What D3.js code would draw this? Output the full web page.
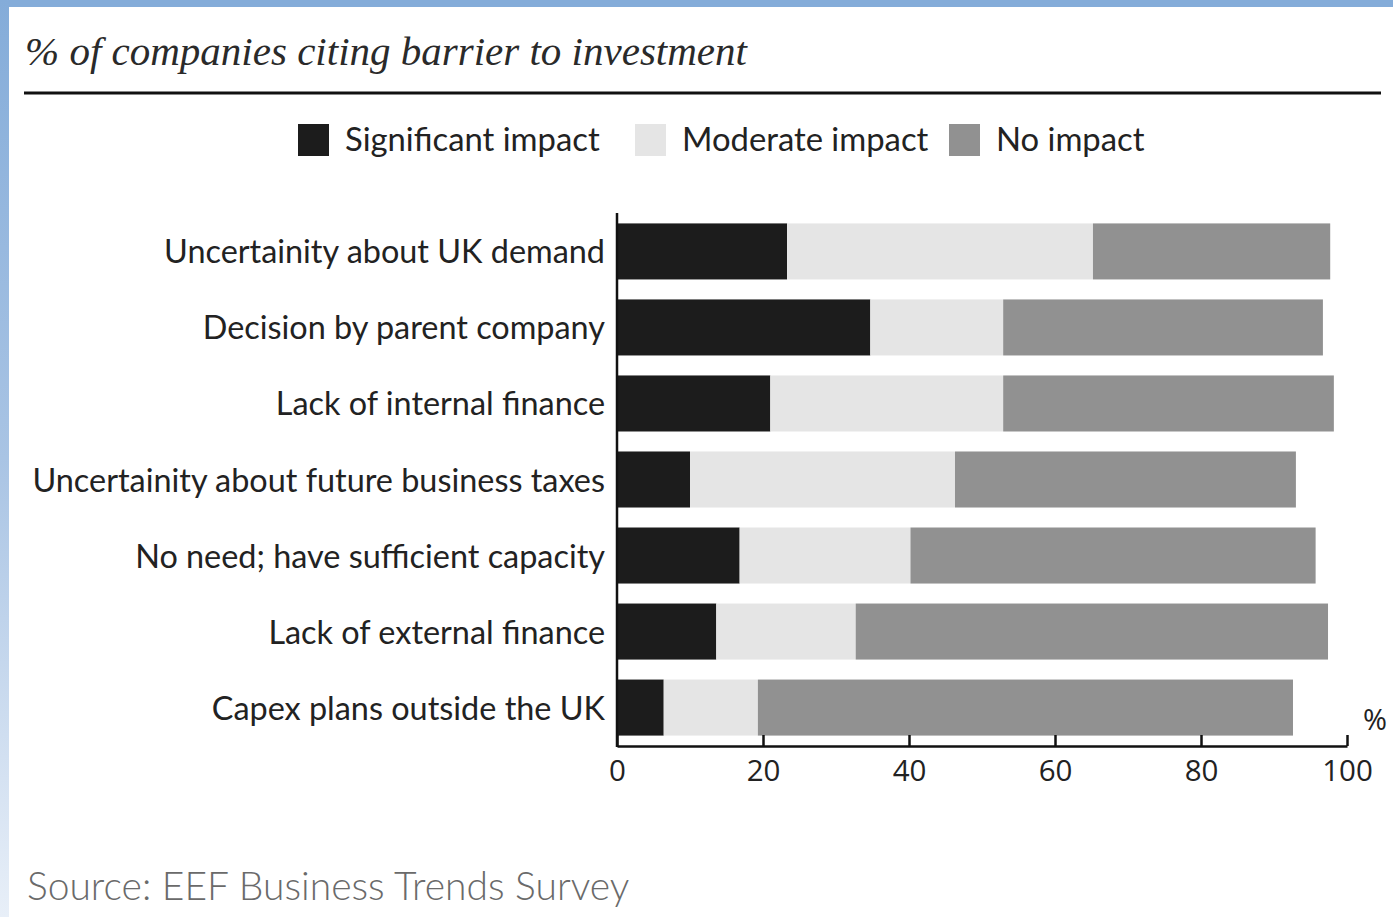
<!DOCTYPE html>
<html>
<head>
<meta charset="utf-8">
<script src="https://cdn.jsdelivr.net/npm/d3@7"></script>
<style>
  html, body { margin: 0; padding: 0; background: #fff; }
  svg { display: block; }
</style>
</head>
<body>
<svg id="chart" width="1393" height="917"></svg>
<script>
// Survey categories, top to bottom
const categories = [
  "Uncertainity about UK demand",
  "Decision by parent company",
  "Lack of internal finance",
  "Uncertainity about future business taxes",
  "No need; have sufficient capacity",
  "Lack of external finance",
  "Capex plans outside the UK"
];
// % of companies per impact level
const significant = [23.3, 34.7, 21.0, 10.0, 16.8, 13.6, 6.4];
const moderate    = [41.9, 18.2, 31.9, 36.3, 23.4, 19.1, 12.9];
const noImpact    = [32.5, 43.8, 45.3, 46.7, 55.5, 64.7, 73.3];
const seriesNames = ["Significant impact", "Moderate impact", "No impact"];
const xTicks = [0, 20, 40, 60, 80, 100];

const colors = ["#1c1c1c", "#e5e5e5", "#919191"];

const svg = d3.select("#chart");

// frame: blue band along top and a fading band down the left edge
const defs = svg.append("defs");
const grad = defs.append("linearGradient").attr("id", "leftBand")
  .attr("x1", 0).attr("y1", 0).attr("x2", 0).attr("y2", 1);
grad.append("stop").attr("offset", "0%").attr("stop-color", "#84acd9");
grad.append("stop").attr("offset", "50%").attr("stop-color", "#a9c4e4");
grad.append("stop").attr("offset", "100%").attr("stop-color", "#e8eff8");
svg.append("rect").attr("x", 0).attr("y", 0).attr("width", 1393).attr("height", 7).attr("fill", "#84acd9");
svg.append("rect").attr("x", 0).attr("y", 0).attr("width", 9).attr("height", 917).attr("fill", "url(#leftBand)");

// title and rule
svg.append("text")
  .attr("x", 25).attr("y", 65)
  .attr("font-family", "'Liberation Serif', 'DejaVu Serif', serif")
  .attr("font-style", "italic")
  .attr("font-size", 41)
  .attr("fill", "#2a2a2a")
  .text("% of companies citing barrier to investment");
svg.append("line")
  .attr("x1", 24).attr("x2", 1381).attr("y1", 93).attr("y2", 93)
  .attr("stroke", "#111").attr("stroke-width", 3);

// legend
const legendItems = [
  { name: seriesNames[0], color: colors[0], x: 298 },
  { name: seriesNames[1], color: colors[1], x: 635 },
  { name: seriesNames[2], color: colors[2], x: 949 }
];
const legend = svg.append("g");
legendItems.forEach(d => {
  legend.append("rect").attr("x", d.x).attr("y", 124).attr("width", 31).attr("height", 32).attr("fill", d.color);
  legend.append("text")
    .attr("x", d.x + 47).attr("y", 151)
    .attr("font-family", "Lato, 'Open Sans', sans-serif")
    .attr("font-size", 32.8)
    .attr("fill", "#222")
    .text(d.name);
});

// scales
const x = d3.scaleLinear().domain([0, 100]).range([617, 1347]);
const y = d3.scaleBand().domain(categories).range([213, 746]).paddingInner(0.263).paddingOuter(0.137);

// stacked bars
const rows = categories.map((c, i) => ({ cat: c, significant: significant[i], moderate: moderate[i], noImpact: noImpact[i] }));
const stack = d3.stack().keys(["significant", "moderate", "noImpact"]);
const layers = stack(rows);

svg.append("g").selectAll("g")
  .data(layers)
  .join("g")
  .attr("fill", (d, i) => colors[i])
  .selectAll("rect")
  .data(d => d)
  .join("rect")
  .attr("x", d => x(d[0]))
  .attr("width", d => x(d[1]) - x(d[0]))
  .attr("y", d => y(d.data.cat))
  .attr("height", y.bandwidth());

// category labels
svg.append("g").selectAll("text")
  .data(categories)
  .join("text")
  .attr("x", 605)
  .attr("y", d => y(d) + y.bandwidth() / 2 + 12)
  .attr("text-anchor", "end")
  .attr("font-family", "Lato, 'Open Sans', sans-serif")
  .attr("font-size", 32.4)
  .attr("fill", "#222")
  .text(d => d);

// x axis with inward ticks
const xAxis = d3.axisBottom(x).tickValues(xTicks).tickSizeInner(-11).tickSizeOuter(0).tickPadding(14);
const gx = svg.append("g").attr("transform", "translate(0,746)").call(xAxis);
gx.select(".domain").attr("stroke", "#111").attr("stroke-width", 2.5);
gx.selectAll(".tick line").attr("stroke", "#111").attr("stroke-width", 2.5);
gx.selectAll(".tick text")
  .attr("font-family", "'Open Sans', Lato, sans-serif")
  .attr("font-size", 29.5)
  .attr("fill", "#222");

// y axis line
svg.append("line")
  .attr("x1", 617).attr("x2", 617).attr("y1", 213).attr("y2", 747)
  .attr("stroke", "#111").attr("stroke-width", 2.5);

// unit label
svg.append("text")
  .attr("x", 1363).attr("y", 730)
  .attr("font-family", "'Open Sans', Lato, sans-serif")
  .attr("font-size", 29)
  .attr("fill", "#222")
  .text("%");

// source
svg.append("text")
  .attr("x", 27).attr("y", 900)
  .attr("font-family", "Lato, 'Open Sans', sans-serif")
  .attr("font-weight", 300)
  .attr("font-size", 39)
  .attr("fill", "#6a6a6a")
  .text("Source: EEF Business Trends Survey");
</script>
</body>
</html>
